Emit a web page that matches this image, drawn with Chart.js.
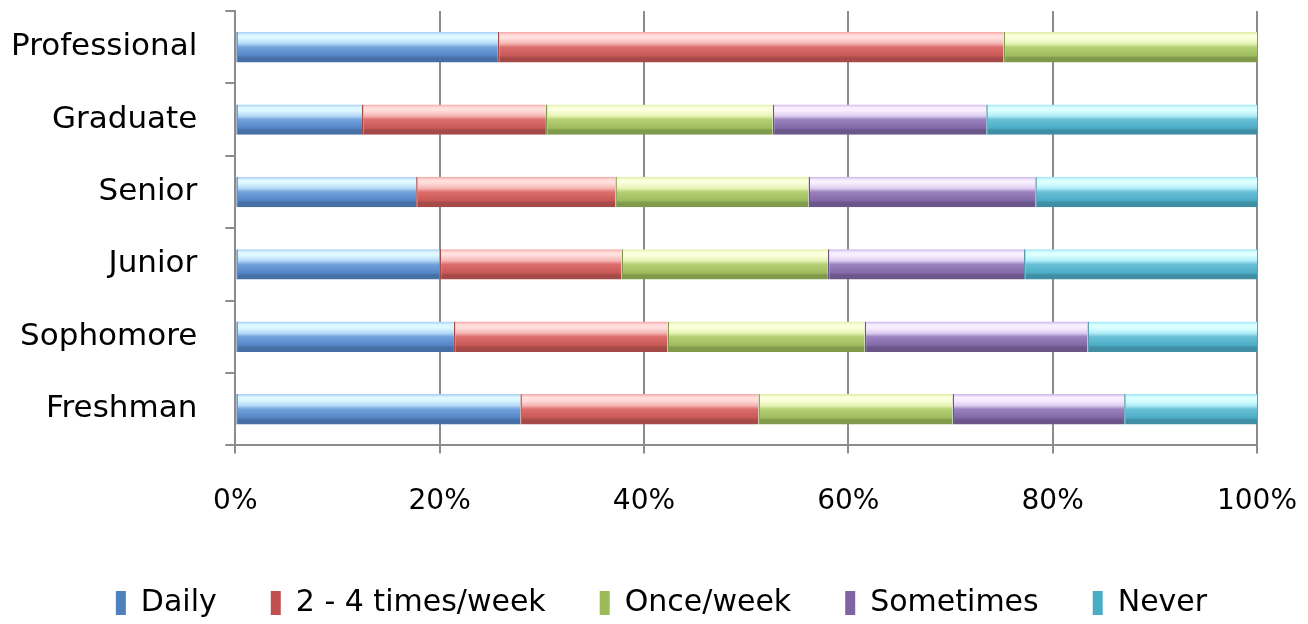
<!DOCTYPE html>
<html>
<head>
<meta charset="utf-8">
<script src="https://cdn.jsdelivr.net/npm/chart.js@4/dist/chart.umd.min.js"></script>
<style>
html,body{margin:0;padding:0;background:#fff;}
#wrap{width:1308px;height:624px;position:relative;}
</style>
</head>
<body>
<div id="wrap"><canvas id="c" width="1308" height="624"></canvas></div>
<script>
const categories = ["Professional", "Graduate", "Senior", "Junior", "Sophomore", "Freshman"];
const daily      = [25.7, 12.4, 17.7, 20.0, 21.4, 27.9];
const twoToFour  = [49.5, 18.0, 19.5, 17.8, 20.9, 23.3];
const oncePerWeek= [24.8, 22.2, 18.9, 20.2, 19.3, 19.0];
const sometimes  = [0,    20.9, 22.2, 19.2, 21.8, 16.8];
const never      = [0,    26.5, 21.7, 22.8, 16.6, 13.0];
const tickLabels = ["0%", "20%", "40%", "60%", "80%", "100%"];
const seriesNames = ["Daily", "2 - 4 times/week", "Once/week", "Sometimes", "Never"];

const palettes = [
  ["#a9cdf5","#def8ff","#b4d8f6","#72a2dc","#5585c6","#456fa5"],
  ["#f3a8a6","#ffdedc","#f4b4b2","#dc6e6c","#c85956","#a54a48"],
  ["#dff0a8","#fbffdc","#e6f3b4","#b4cf74","#9fbd5f","#7f9a4b"],
  ["#cbb9e6","#f9eeff","#ddcdf0","#9a82bf","#8369a8","#6a5689"],
  ["#9ee6f5","#dcffff","#b0ecf8","#68c0d6","#4dadc6","#3f8ea3"]
];
const baseColors = ["#4F81BD","#C0504D","#9BBB59","#8064A2","#4BACC6"];

function gradFor(ctx, di) {
  const chart = ctx.chart;
  const y = chart.scales && chart.scales.y;
  if (!y || !chart.chartArea || ctx.type !== 'data') return baseColors[di];
  const meta = chart.getDatasetMeta(ctx.datasetIndex);
  const el = meta.data[ctx.dataIndex];
  const center = y.getPixelForValue(ctx.dataIndex);
  const h = el && el.height ? el.height : 30;
  const g = chart.ctx.createLinearGradient(0, center - h/2, 0, center + h/2);
  const p = palettes[di];
  g.addColorStop(0, p[0]);
  g.addColorStop(0.1, p[1]);
  g.addColorStop(0.2, p[1]);
  g.addColorStop(0.38, p[2]);
  g.addColorStop(0.5, p[3]);
  g.addColorStop(0.78, p[4]);
  g.addColorStop(0.86, p[5]);
  g.addColorStop(1, p[5]);
  return g;
}

const seriesValues = [daily, twoToFour, oncePerWeek, sometimes, never];
const datasets = seriesValues.map((vals, i) => ({
  label: seriesNames[i],
  data: vals,
  backgroundColor: (ctx) => gradFor(ctx, i),
  borderColor: palettes[i][5],
  borderWidth: { left: 1.5, right: 0, top: 0, bottom: 0 },
  borderSkipped: false,
  barPercentage: 0.42,
  categoryPercentage: 1.0
}));

const FONT = "'DejaVu Sans', sans-serif";

const legendShift = {
  id: 'legendShift',
  afterLayout(chart) {
    const lg = chart.legend;
    if (lg) { lg.left += 28; lg.right += 28; }
  }
};

new Chart(document.getElementById('c'), {
  type: 'bar',
  data: { labels: categories, datasets },
  plugins: [legendShift],
  options: {
    indexAxis: 'y',
    responsive: false,
    animation: false,
    layout: { padding: { top: 11, right: 51, left: 10, bottom: -4 } },
    plugins: {
      tooltip: { enabled: false },
      legend: {
        position: 'bottom',
        labels: {
          font: { family: FONT, size: 30 },
          color: '#000',
          boxWidth: 10,
          boxHeight: 24,
          padding: 54,
          generateLabels: (chart) => chart.data.datasets.map((d, i) => ({
            text: d.label, fillStyle: baseColors[i], strokeStyle: baseColors[i],
            lineWidth: 0, datasetIndex: i, hidden: false, fontColor: '#000'
          }))
        }
      }
    },
    scales: {
      x: {
        stacked: true,
        min: 0, max: 100,
        afterFit: (s) => { s.paddingRight = 40; s.paddingLeft = 0; s.height -= 17; },
        ticks: {
          stepSize: 20,
          callback: (v) => tickLabels[Math.round(v / 20)],
          font: { family: FONT, size: 28 },
          color: '#000',
          padding: 32
        },
        grid: { color: '#8c8c8c', lineWidth: 2, drawTicks: true, tickLength: 8 },
        border: { color: '#8c8c8c', width: 2 }
      },
      y: {
        stacked: true,
        afterFit: (s) => { s.paddingTop = 0; s.paddingBottom = 0; s.width -= 27; },
        ticks: { font: { family: FONT, size: 31 }, color: '#000', padding: 28 },
        grid: { drawOnChartArea: false, drawTicks: true, tickLength: 10, color: '#8c8c8c', lineWidth: 2, offset: true },
        border: { color: '#8c8c8c', width: 2 }
      }
    }
  }
});
</script>
</body>
</html>
